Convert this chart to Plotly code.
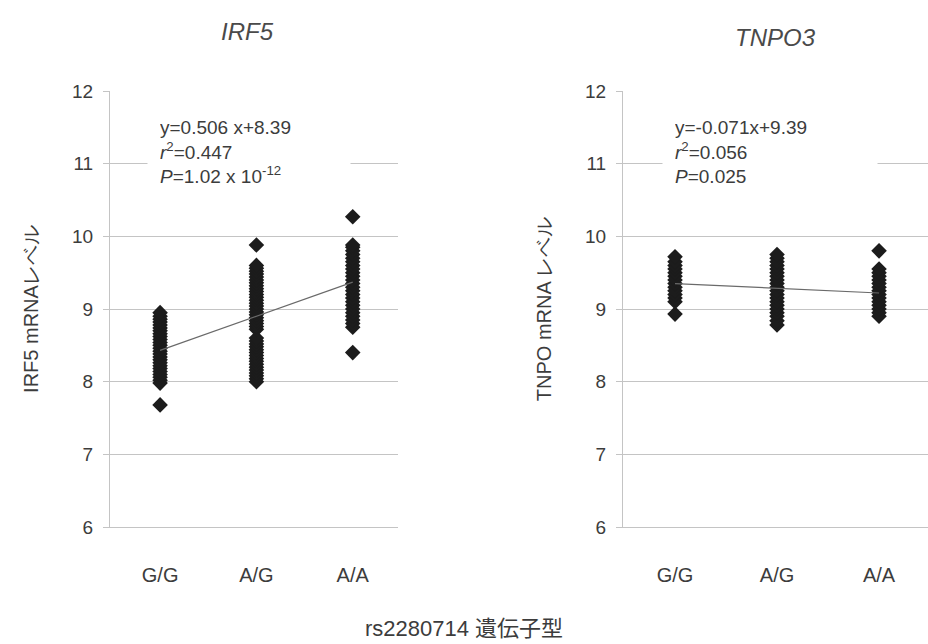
import plotly.graph_objects as go

# ---------------- data ----------------
genotypes = ["G/G", "A/G", "A/A"]
genotype_pos = [0, 1, 2]

irf5_gg = [7.68, 7.98, 8.02, 8.06, 8.10, 8.14, 8.18, 8.22, 8.26, 8.30, 8.34, 8.38, 8.42,
           8.46, 8.50, 8.54, 8.58, 8.62, 8.66, 8.70, 8.74, 8.78, 8.82, 8.86, 8.90, 8.95]
irf5_ag = [8.00, 8.04, 8.08, 8.12, 8.16, 8.20, 8.24, 8.28, 8.32, 8.36, 8.40, 8.44, 8.48,
           8.52, 8.56, 8.60, 8.72, 8.76, 8.80, 8.84, 8.88, 8.92, 8.96, 9.00, 9.04, 9.08,
           9.12, 9.16, 9.20, 9.24, 9.28, 9.32, 9.36, 9.40, 9.44, 9.48, 9.52, 9.56, 9.60, 9.88]
irf5_aa = [8.40, 8.75, 8.80, 8.85, 8.90, 8.95, 9.00, 9.05, 9.10, 9.15, 9.20, 9.25, 9.30,
           9.35, 9.40, 9.45, 9.50, 9.55, 9.60, 9.65, 9.70, 9.75, 9.80, 9.85, 9.88, 10.27]
irf5_fit = [8.43, 9.37]

tnpo3_gg = [8.93, 9.10, 9.15, 9.20, 9.25, 9.30, 9.35, 9.40, 9.45, 9.50, 9.55, 9.60, 9.65, 9.72]
tnpo3_ag = [8.78, 8.84, 8.90, 8.95, 9.00, 9.05, 9.10, 9.15, 9.20, 9.25, 9.30, 9.35, 9.40,
            9.45, 9.50, 9.55, 9.60, 9.65, 9.70, 9.75]
tnpo3_aa = [8.90, 8.95, 9.00, 9.05, 9.10, 9.15, 9.20, 9.25, 9.30, 9.35, 9.40, 9.45, 9.50,
            9.55, 9.80]
tnpo3_fit = [9.35, 9.22]

y_ticks = [6, 7, 8, 9, 10, 11, 12]

irf5_text = "y=0.506 x+8.39<br><i>r</i><sup>2</sup>=0.447<br><i>P</i>=1.02 x 10<sup>-12</sup>"
tnpo3_text = "y=-0.071x+9.39<br><i>r</i><sup>2</sup>=0.056<br><i>P</i>=0.025"

# ---------------- figure ----------------
W, H = 928, 644
FONT = "Liberation Sans, Arial, sans-serif"
TXT = "#3c3c3c"
GRID = "#c4c4c4"
MK = "#1c1c1c"

fig = go.Figure()


def add_panel(groups, fit, xa, ya):
    for pos, vals in zip(genotype_pos, groups):
        fig.add_trace(go.Scatter(
            x=[pos] * len(vals), y=vals, mode="markers",
            marker=dict(symbol="diamond", size=12, color=MK, line=dict(width=0)),
            xaxis=xa, yaxis=ya, showlegend=False, hoverinfo="y"))
    fig.add_trace(go.Scatter(
        x=[genotype_pos[0], genotype_pos[-1]], y=fit, mode="lines",
        line=dict(color="#6a6a6a", width=1.2),
        xaxis=xa, yaxis=ya, showlegend=False, hoverinfo="skip"))


add_panel([irf5_gg, irf5_ag, irf5_aa], irf5_fit, "x", "y")
add_panel([tnpo3_gg, tnpo3_ag, tnpo3_aa], tnpo3_fit, "x2", "y2")

ydom = [1 - 527 / H, 1 - 91 / H]

yaxis_common = dict(
    range=[6, 12], tickvals=y_ticks, showgrid=True, gridcolor=GRID, gridwidth=1,
    showline=True, linecolor=GRID, linewidth=1, ticks="outside", ticklen=6,
    tickcolor=GRID, tickfont=dict(family=FONT, size=19, color=TXT),
    zeroline=False, domain=ydom, ticklabelstandoff=6, automargin=False,
)
xaxis_common = dict(
    tickvals=genotype_pos, ticktext=genotypes, showgrid=False, zeroline=False,
    showline=True, linecolor=GRID, linewidth=1, ticks="",
    tickfont=dict(family=FONT, size=20, color=TXT), ticklabelstandoff=30,
    automargin=False,
)

fig.update_layout(
    width=W, height=H,
    margin=dict(l=0, r=0, t=0, b=0),
    paper_bgcolor="white", plot_bgcolor="white",
    xaxis=dict(xaxis_common, domain=[110 / W, 398 / W], range=[-0.52, 2.47], anchor="y"),
    yaxis=dict(yaxis_common, anchor="x",
               title=dict(text="IRF5 mRNAレベル", standoff=28,
                          font=dict(family=FONT, size=20, color=TXT))),
    xaxis2=dict(xaxis_common, domain=[623 / W, 1.0], range=[-0.51, 2.48], anchor="y2"),
    yaxis2=dict(yaxis_common, anchor="x2",
                title=dict(text="TNPO mRNA レベル", standoff=28,
                           font=dict(family=FONT, size=20, color=TXT))),
    annotations=[
        dict(text="<i>IRF5</i>", x=247 / W, y=1 - 32 / H, xref="paper", yref="paper",
             showarrow=False, xanchor="center", yanchor="middle",
             font=dict(family=FONT, size=24, color="#4a4a4a")),
        dict(text="<i>TNPO3</i>", x=775 / W, y=1 - 38 / H, xref="paper", yref="paper",
             showarrow=False, xanchor="center", yanchor="middle",
             font=dict(family=FONT, size=24, color="#4a4a4a")),
        dict(text=irf5_text, x=147 / W, y=1 - 152 / H, xref="paper", yref="paper",
             showarrow=False, xanchor="left", yanchor="middle", align="left",
             bgcolor="white", borderpad=12, width=178,
             font=dict(family=FONT, size=19, color=TXT)),
        dict(text=tnpo3_text, x=662 / W, y=1 - 152 / H, xref="paper", yref="paper",
             showarrow=False, xanchor="left", yanchor="middle", align="left",
             bgcolor="white", borderpad=12, width=190,
             font=dict(family=FONT, size=19, color=TXT)),
        dict(text="rs2280714 遺伝子型", x=464 / W, y=1 - 628 / H, xref="paper", yref="paper",
             showarrow=False, xanchor="center", yanchor="middle",
             font=dict(family=FONT + ", Noto Sans CJK JP", size=22, color=TXT)),
    ],
)

fig.write_html("out.html")
